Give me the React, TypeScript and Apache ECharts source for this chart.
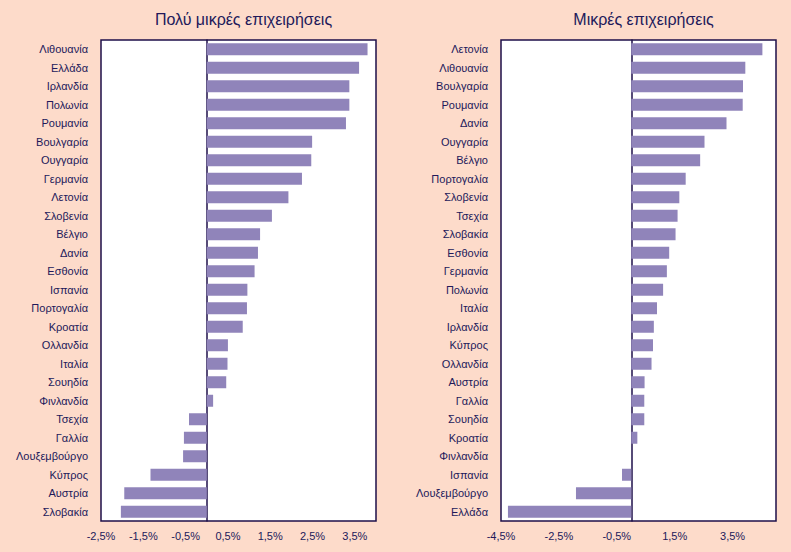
import React, { useEffect, useRef } from "react";
import * as echarts from "echarts";

const leftTitle = "Πολύ μικρές επιχειρήσεις";
const rightTitle = "Μικρές επιχειρήσεις";

const leftCategories = [
  "Λιθουανία", "Ελλάδα", "Ιρλανδία", "Πολωνία", "Ρουμανία", "Βουλγαρία", "Ουγγαρία",
  "Γερμανία", "Λετονία", "Σλοβενία", "Βέλγιο", "Δανία", "Εσθονία", "Ισπανία",
  "Πορτογαλία", "Κροατία", "Ολλανδία", "Ιταλία", "Σουηδία", "Φινλανδία", "Τσεχία",
  "Γαλλία", "Λουξεμβούργο", "Κύπρος", "Αυστρία", "Σλοβακία",
];
const leftValues = [
  3.8, 3.6, 3.37, 3.37, 3.29, 2.49, 2.47, 2.25, 1.93, 1.54, 1.26, 1.21, 1.13, 0.96,
  0.95, 0.85, 0.5, 0.49, 0.46, 0.15, -0.42, -0.54, -0.56, -1.33, -1.95, -2.03,
];

const rightCategories = [
  "Λετονία", "Λιθουανία", "Βουλγαρία", "Ρουμανία", "Δανία", "Ουγγαρία", "Βέλγιο",
  "Πορτογαλία", "Σλοβενία", "Τσεχία", "Σλοβακία", "Εσθονία", "Γερμανία", "Πολωνία",
  "Ιταλία", "Ιρλανδία", "Κύπρος", "Ολλανδία", "Αυστρία", "Γαλλία", "Σουηδία",
  "Κροατία", "Φινλανδία", "Ισπανία", "Λουξεμβούργο", "Ελλάδα",
];
const rightValues = [
  4.53, 3.94, 3.86, 3.85, 3.29, 2.53, 2.38, 1.88, 1.66, 1.6, 1.53, 1.31, 1.23, 1.1,
  0.89, 0.78, 0.75, 0.7, 0.46, 0.45, 0.45, 0.21, 0, -0.32, -1.91, -4.26,
];

const leftTicks = [-2.5, -1.5, -0.5, 0.5, 1.5, 2.5, 3.5];
const rightTicks = [-4.5, -2.5, -0.5, 1.5, 3.5];

const BG = "#FDDBCA";
const INK = "#22195A";
const BAR = "#9084BA";
const BORDER = "#1E0F4A";

function fmt(v: number) {
  return String(v).replace(".", ",") + "%";
}

function makeFormatter(ticks: number[]) {
  return (v: number) => {
    const hit = ticks.find((t) => Math.abs(t - v) < 1e-6);
    return hit === undefined ? "" : fmt(hit);
  };
}

export default function App() {
  const ref = useRef<HTMLDivElement>(null);
  useEffect(() => {
    if (!ref.current) return;
    const chart = echarts.init(ref.current, undefined, { renderer: "svg" });
    const font = "Liberation Sans, Arial, sans-serif";
    const xAxisBase = {
      type: "value",
      interval: 0.5,
      axisLine: { show: false },
      axisTick: { show: false },
      splitLine: { show: false },
      axisLabel: { color: INK, fontSize: 11, fontFamily: font, margin: 9 },
    };
    const yAxisBase = {
      type: "category",
      inverse: true,
      axisTick: { show: false },
      axisLine: { show: true, onZero: true, lineStyle: { color: BORDER, width: 1.5 } },
      axisLabel: { color: INK, fontSize: 11, fontFamily: font, margin: 13 },
    };
    chart.setOption({
      animation: false,
      backgroundColor: BG,
      title: [
        {
          text: leftTitle,
          left: 238.5,
          top: 6,
          textAlign: "center",
          textStyle: { color: INK, fontSize: 16, fontWeight: "normal", fontFamily: font },
        },
        {
          text: rightTitle,
          left: 638.5,
          top: 6,
          textAlign: "center",
          textStyle: { color: INK, fontSize: 16, fontWeight: "normal", fontFamily: font },
        },
      ],
      grid: [
        { left: 101, top: 40, width: 275, height: 481, show: true, backgroundColor: "#FFFFFF", borderColor: BORDER, borderWidth: 1.5 },
        { left: 501, top: 40, width: 275, height: 481, show: true, backgroundColor: "#FFFFFF", borderColor: BORDER, borderWidth: 1.5 },
      ],
      xAxis: [
        { ...xAxisBase, gridIndex: 0, min: -2.5, max: 4, axisLabel: { ...xAxisBase.axisLabel, formatter: makeFormatter(leftTicks) } },
        { ...xAxisBase, gridIndex: 1, min: -4.5, max: 5, axisLabel: { ...xAxisBase.axisLabel, formatter: makeFormatter(rightTicks) } },
      ],
      yAxis: [
        { ...yAxisBase, gridIndex: 0, data: leftCategories },
        { ...yAxisBase, gridIndex: 1, data: rightCategories },
      ],
      series: [
        {
          type: "bar",
          xAxisIndex: 0,
          yAxisIndex: 0,
          data: leftValues,
          barWidth: 12,
          itemStyle: { color: BAR },
        },
        {
          type: "bar",
          xAxisIndex: 1,
          yAxisIndex: 1,
          data: rightValues,
          barWidth: 12,
          itemStyle: { color: BAR },
        },
      ],
    });
    return () => chart.dispose();
  }, []);
  return (
    <div
      ref={ref}
      style={{ position: "fixed", left: 0, top: 0, width: 791, height: 552 }}
    />
  );
}
